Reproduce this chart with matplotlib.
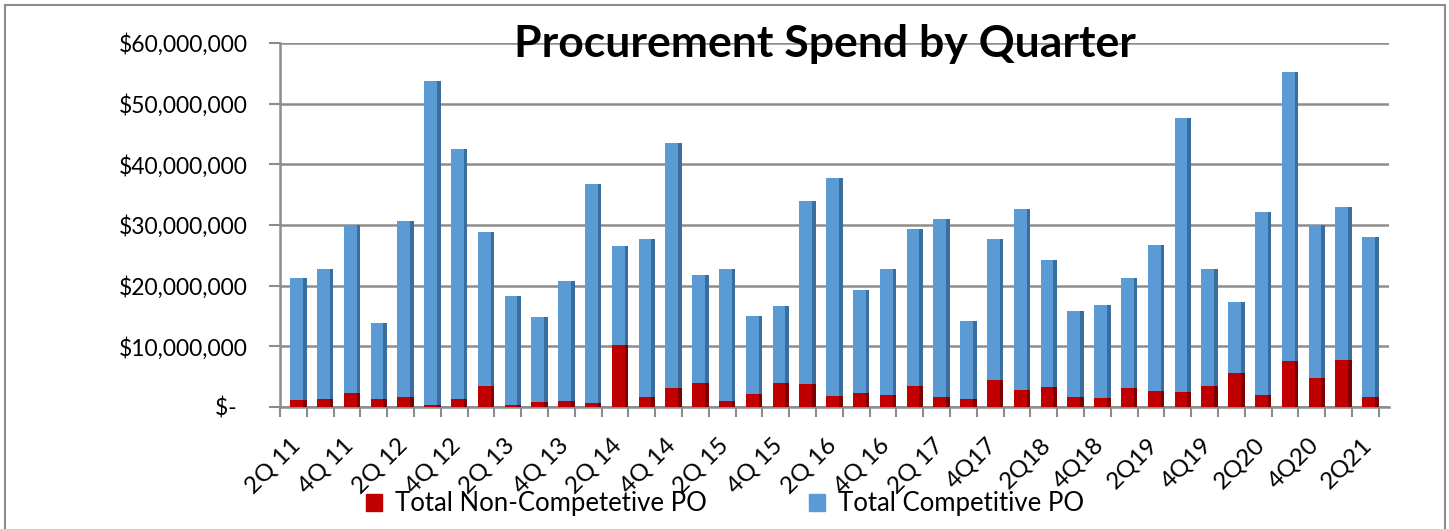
"""
Procurement spend by quarter - stacked columns (non-competitive + competitive PO)
"""

import matplotlib
matplotlib.use('Agg')
import matplotlib.pyplot as plt
from matplotlib.patches import Rectangle
from matplotlib.ticker import FuncFormatter
import numpy as np

quarters = ['2Q 11', '3Q 11', '4Q 11',
            '1Q 12', '2Q 12', '3Q 12', '4Q 12',
            '1Q 13', '2Q 13', '3Q 13', '4Q 13',
            '1Q 14', '2Q 14', '3Q 14', '4Q 14',
            '1Q 15', '2Q 15', '3Q 15', '4Q 15',
            '1Q 16', '2Q 16', '3Q 16', '4Q 16',
            '1Q 17', '2Q 17', '3Q 17', '4Q17',
            '1Q18', '2Q18', '3Q18', '4Q18',
            '1Q19', '2Q19', '3Q19', '4Q19',
            '1Q20', '2Q20', '3Q20', '4Q20',
            '1Q21', '2Q21']

# total spend per quarter ($M)
total_spend = [21.2, 22.7, 30.0, 13.8, 30.7, 53.7, 42.5, 28.9, 18.3, 14.8,
               20.8, 36.8, 26.5, 27.7, 43.5, 21.7, 22.7, 15.0, 16.7, 34.0,
               37.7, 19.3, 22.7, 29.3, 31.0, 14.2, 27.7, 32.7, 24.3, 15.8,
               16.8, 21.2, 26.7, 47.7, 22.7, 17.3, 32.2, 55.2, 30.0, 33.0,
               28.0]

# non-competitive PO ($M)
non_competitive = [1.2, 1.3, 2.3, 1.4, 1.6, 0.4, 1.3, 3.4, 0.4, 0.9,
                   1.0, 0.6, 10.3, 1.7, 3.1, 3.9, 1.0, 2.2, 3.9, 3.8,
                   1.8, 2.3, 1.9, 3.4, 1.6, 1.3, 4.5, 2.8, 3.3, 1.6,
                   1.5, 3.1, 2.7, 2.5, 3.4, 5.6, 2.0, 7.6, 4.8, 7.8,
                   1.7]

non_comp = np.array(non_competitive) * 1e6
competitive = np.array(total_spend) * 1e6 - non_comp

RED, RED_SIDE = '#C00000', '#7F0000'
BLUE, BLUE_SIDE = '#5B9BD5', '#3A6E9E'
GRID = '#8C8C8C'

fig = plt.figure(figsize=(14.49, 5.29), dpi=100)
ax = fig.add_axes([280 / 1449, 122 / 529, 1109 / 1449, 364 / 529])

x = np.arange(len(quarters))
w, side = 0.48, 0.13

# front faces
ax.bar(x, non_comp, width=w, color=RED, zorder=3)
ax.bar(x, competitive, bottom=non_comp, width=w, color=BLUE, zorder=3)
# darker side faces for the 3D look
ax.bar(x + w / 2 + side / 2, non_comp, width=side, color=RED_SIDE, zorder=3)
ax.bar(x + w / 2 + side / 2, competitive, bottom=non_comp, width=side,
       color=BLUE_SIDE, zorder=3)

ax.set_xlim(-0.62, 40.76)
ax.set_ylim(0, 60e6)
ax.set_yticks(np.arange(0, 60e6 + 1, 10e6))
ax.yaxis.set_major_formatter(FuncFormatter(
    lambda v, p: '$-  ' if v == 0 else f'${v:,.0f}'))
ax.yaxis.grid(True, color=GRID, linewidth=1.8, zorder=0)
ax.set_axisbelow(True)

# tick marks on category boundaries, labels on every other bar
ax.set_xticks(np.arange(len(quarters) + 1) - 0.62)
ax.set_xticklabels([])
ax.set_xticks(x[::2], minor=True)
ax.set_xticklabels(quarters[::2], minor=True, rotation=45, ha='right',
                   va='center', rotation_mode='anchor',
                   fontsize=17.5, family='Lato')
ax.tick_params(axis='x', which='major', length=7, color=GRID, width=1.5)
ax.tick_params(axis='x', which='minor', length=0, pad=25)
ax.tick_params(axis='y', length=8, color=GRID, width=1.5, pad=15,
               labelsize=16.5)
for lbl in ax.get_yticklabels():
    lbl.set_family('Lato')

for s in ['top', 'right']:
    ax.spines[s].set_visible(False)
for s in ['left', 'bottom']:
    ax.spines[s].set_color(GRID)
    ax.spines[s].set_linewidth(1.8)

fig.text(825 / 1449, 1 - 44 / 529, 'Procurement Spend by Quarter',
         ha='center', va='center', fontsize=32, fontweight='bold',
         family='Lato')

handles = [Rectangle((0, 0), 1, 1, color=RED), Rectangle((0, 0), 1, 1, color=BLUE)]
fig.legend(handles, ['Total Non-Competetive PO', 'Total Competitive PO'],
           loc='center', bbox_to_anchor=(725 / 1449, 1 - 504 / 529), ncol=2,
           frameon=False, prop={'family': 'Lato', 'size': 18.5},
           handlelength=0.6, handleheight=0.6, handletextpad=0.5,
           columnspacing=4.0)

# outer chart border
fig.patches.append(Rectangle((5 / 1449, -0.02), 1440 / 1449, 1.02 - 5 / 529,
                             transform=fig.transFigure, fill=False,
                             edgecolor='#8C8C8C', linewidth=1.5))

plt.savefig('out.png', dpi=100)
plt.close()
